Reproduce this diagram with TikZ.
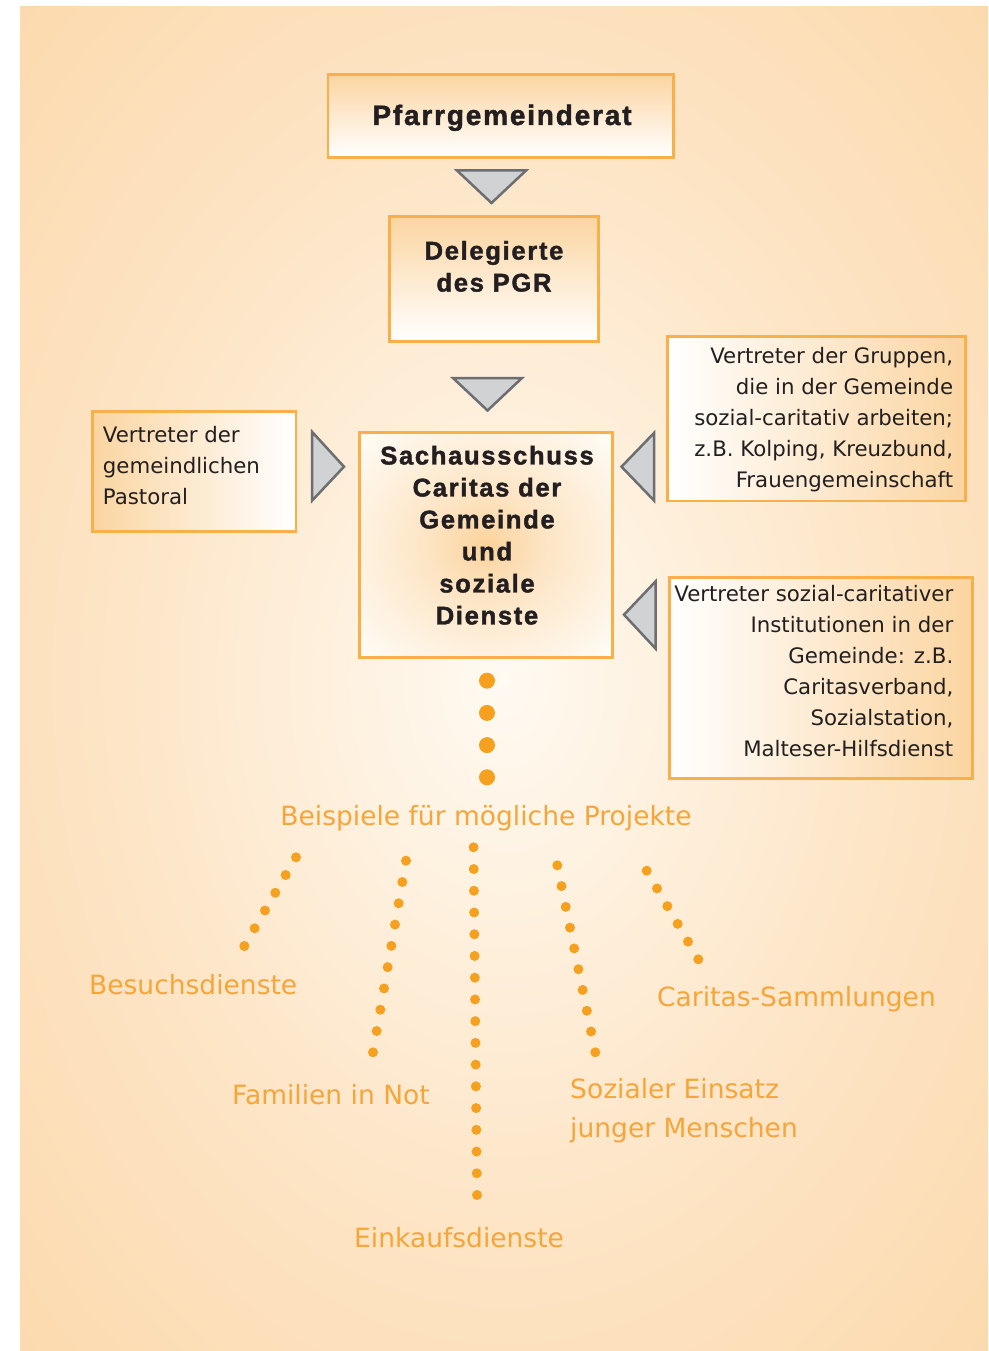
\documentclass[tikz,border=0pt]{standalone}
\usepackage{fontspec}
\setmainfont{DejaVu Sans}
\newfontfamily\titlefont[LetterSpace=6.5,FakeBold=1.6]{Liberation Sans Bold}
\usetikzlibrary{calc}
\definecolor{boxborder}{HTML}{F9B04B}
\definecolor{boxorange}{HTML}{FBD5A1}
\definecolor{trifill}{HTML}{D1D2D4}
\definecolor{tristroke}{HTML}{6D6E71}
\definecolor{dotorange}{HTML}{F5A01F}
\definecolor{labelorange}{HTML}{F6A53A}
\definecolor{textdark}{HTML}{231F20}
\definecolor{bga}{HTML}{FFFAF2}
\definecolor{bgb}{HTML}{FEF1DF}
\definecolor{bgc}{HTML}{FDE4C4}
\definecolor{bgd}{HTML}{FCD9AC}
\definecolor{bge}{HTML}{FBD4A0}
\definecolor{bgf}{HTML}{FBD19A}
\definecolor{glowa}{HTML}{FBD39C}
\definecolor{glowb}{HTML}{FDE5C5}
\definecolor{glowc}{HTML}{FFFDF9}
\pgfdeclareradialshading{bgshade}{\pgfpoint{0bp}{0bp}}{color(0bp)=(bga); color(6bp)=(bgb); color(15bp)=(bgc); color(26bp)=(bgd); color(35bp)=(bge); color(50bp)=(bgf)}
\pgfdeclareradialshading{glowshade}{\pgfpoint{0bp}{0bp}}{color(0bp)=(glowa); color(12bp)=(glowb); color(36bp)=(glowc); color(50bp)=(glowc)}
\tikzset{
  boxbase/.style={draw=boxborder, line width=2.8pt, inner sep=0pt, anchor=north west},
  vbox/.style={boxbase, top color=boxorange, bottom color=white},
  lbox/.style={boxbase, left color=boxorange, right color=white},
  rbox/.style={boxbase, left color=white, right color=boxorange},
  gbox/.style={boxbase, shading=glowshade},
  tri/.style={fill=trifill, draw=tristroke, line width=2.5pt, line join=miter},
  titletext/.style={text=textdark, inner sep=0pt, align=center},
  bodytext/.style={text=textdark, inner sep=0pt, font=\fontsize{21.3}{31}\selectfont},
  labeltext/.style={text=labelorange, inner sep=0pt, font=\fontsize{26.5}{39}\selectfont},
  bigdot/.style={fill=dotorange},
  smalldot/.style={fill=dotorange}
}
\begin{document}
\begin{tikzpicture}[x=1pt,y=-1pt]
\useasboundingbox (0,0) rectangle (988,1351);
\fill[white] (0,0) rectangle (988,1351);
\begin{scope}
  \clip (20,7) rectangle (988,1351);
  \shade[shading=bgshade] (-180.5,-271.4) rectangle (1188.5,1629.4);
\end{scope}

% boxes
\node[vbox, minimum width=345.5pt, minimum height=83pt] (pgr) at (326.5,73) {};
\node[vbox, minimum width=208.8pt, minimum height=124.9pt] (del) at (388.1,215.4) {};
\node[gbox, minimum width=253.2pt, minimum height=225.6pt] (sach) at (358.1,430.7) {};
\node[lbox, minimum width=203.2pt, minimum height=120.6pt] (past) at (91.4,409.7) {};
\node[rbox, minimum width=298.6pt, minimum height=164.9pt] (grp) at (665.7,334.7) {};
\node[rbox, minimum width=302.8pt, minimum height=200.5pt] (inst) at (668.1,576.4) {};

% titles
\node[titletext, anchor=base, font=\titlefont\fontsize{28}{32}\selectfont] (pgrT) at (502,125) {Pfarrgemeinderat};
\node[titletext, anchor=center, font=\titlefont\fontsize{25.6}{32}\selectfont] (delT) at (494,266.4) {Delegierte\\des PGR};
\node[titletext, anchor=center, font=\titlefont\fontsize{25.6}{32}\selectfont] (sachT) at (487,535.3) {Sachausschuss\\Caritas der\\Gemeinde\\und\\soziale\\Dienste};

% body texts
\node[bodytext, anchor=west, align=left] (pastT) at (102.7,465.9) {Vertreter der\\gemeindlichen\\Pastoral};
\node[bodytext, anchor=east, align=right] (grpT) at (953.3,419.9) {Vertreter der Gruppen,\\die in der Gemeinde\\sozial-caritativ arbeiten;\\z.B. Kolping, Kreuzbund,\\Frauengemeinschaft};
\node[bodytext, anchor=east, align=right] (instT) at (953.5,671.2) {Vertreter sozial-caritativer\\Institutionen in der\\Gemeinde: z.B.\\Caritasverband,\\Sozialstation,\\Malteser-Hilfsdienst};

% triangles
\draw[tri] (457,170.5) -- (526,170.5) -- (491.5,203) -- cycle;
\draw[tri] (453,378) -- (522,378) -- (487.5,410.5) -- cycle;
\draw[tri] (312.2,432) -- (312.2,500.5) -- (344,466.7) -- cycle;
\draw[tri] (654,433) -- (654,500.5) -- (621.5,466.7) -- cycle;
\draw[tri] (655.5,581.5) -- (655.5,648.5) -- (624,614.7) -- cycle;

% big dots
\foreach \yy in {680.7,712.9,745.1,777.3} \fill[bigdot] (487,\yy) circle (8pt);

% projects heading
\node[labeltext, anchor=base] (proj) at (486,825) {Beispiele für mögliche Projekte};

% dotted lines
\coordinate (d1s) at (296,857.3);   \coordinate (d1e) at (244.3,946);
\coordinate (d2s) at (406,860.7);   \coordinate (d2e) at (373,1052.3);
\coordinate (d3s) at (473.5,847.3); \coordinate (d3e) at (477,1195);
\coordinate (d4s) at (557.3,865.3); \coordinate (d4e) at (595.3,1052.3);
\coordinate (d5s) at (646.7,870.7); \coordinate (d5e) at (698.3,959.3);
\foreach \s/\e/\n in {d1s/d1e/5, d2s/d2e/9, d3s/d3e/16, d4s/d4e/9, d5s/d5e/5}{
  \foreach \i in {0,...,\n}{
    \fill[smalldot] ($(\s)!{\i/\n}!(\e)$) circle (5pt);
  }
}

% labels
\node[labeltext, anchor=base west] (besuch) at (89,994.5) {Besuchsdienste};
\node[labeltext, anchor=base west] (famil) at (232,1104.5) {Familien in Not};
\node[labeltext, anchor=base west] (einkauf) at (354,1247.5) {Einkaufsdienste};
\node[labeltext, anchor=west, align=left] (sozial) at (570,1110.2) {Sozialer Einsatz\\junger Menschen};
\node[labeltext, anchor=base west] (samml) at (657,1006) {Caritas-Sammlungen};
\end{tikzpicture}
\end{document}
